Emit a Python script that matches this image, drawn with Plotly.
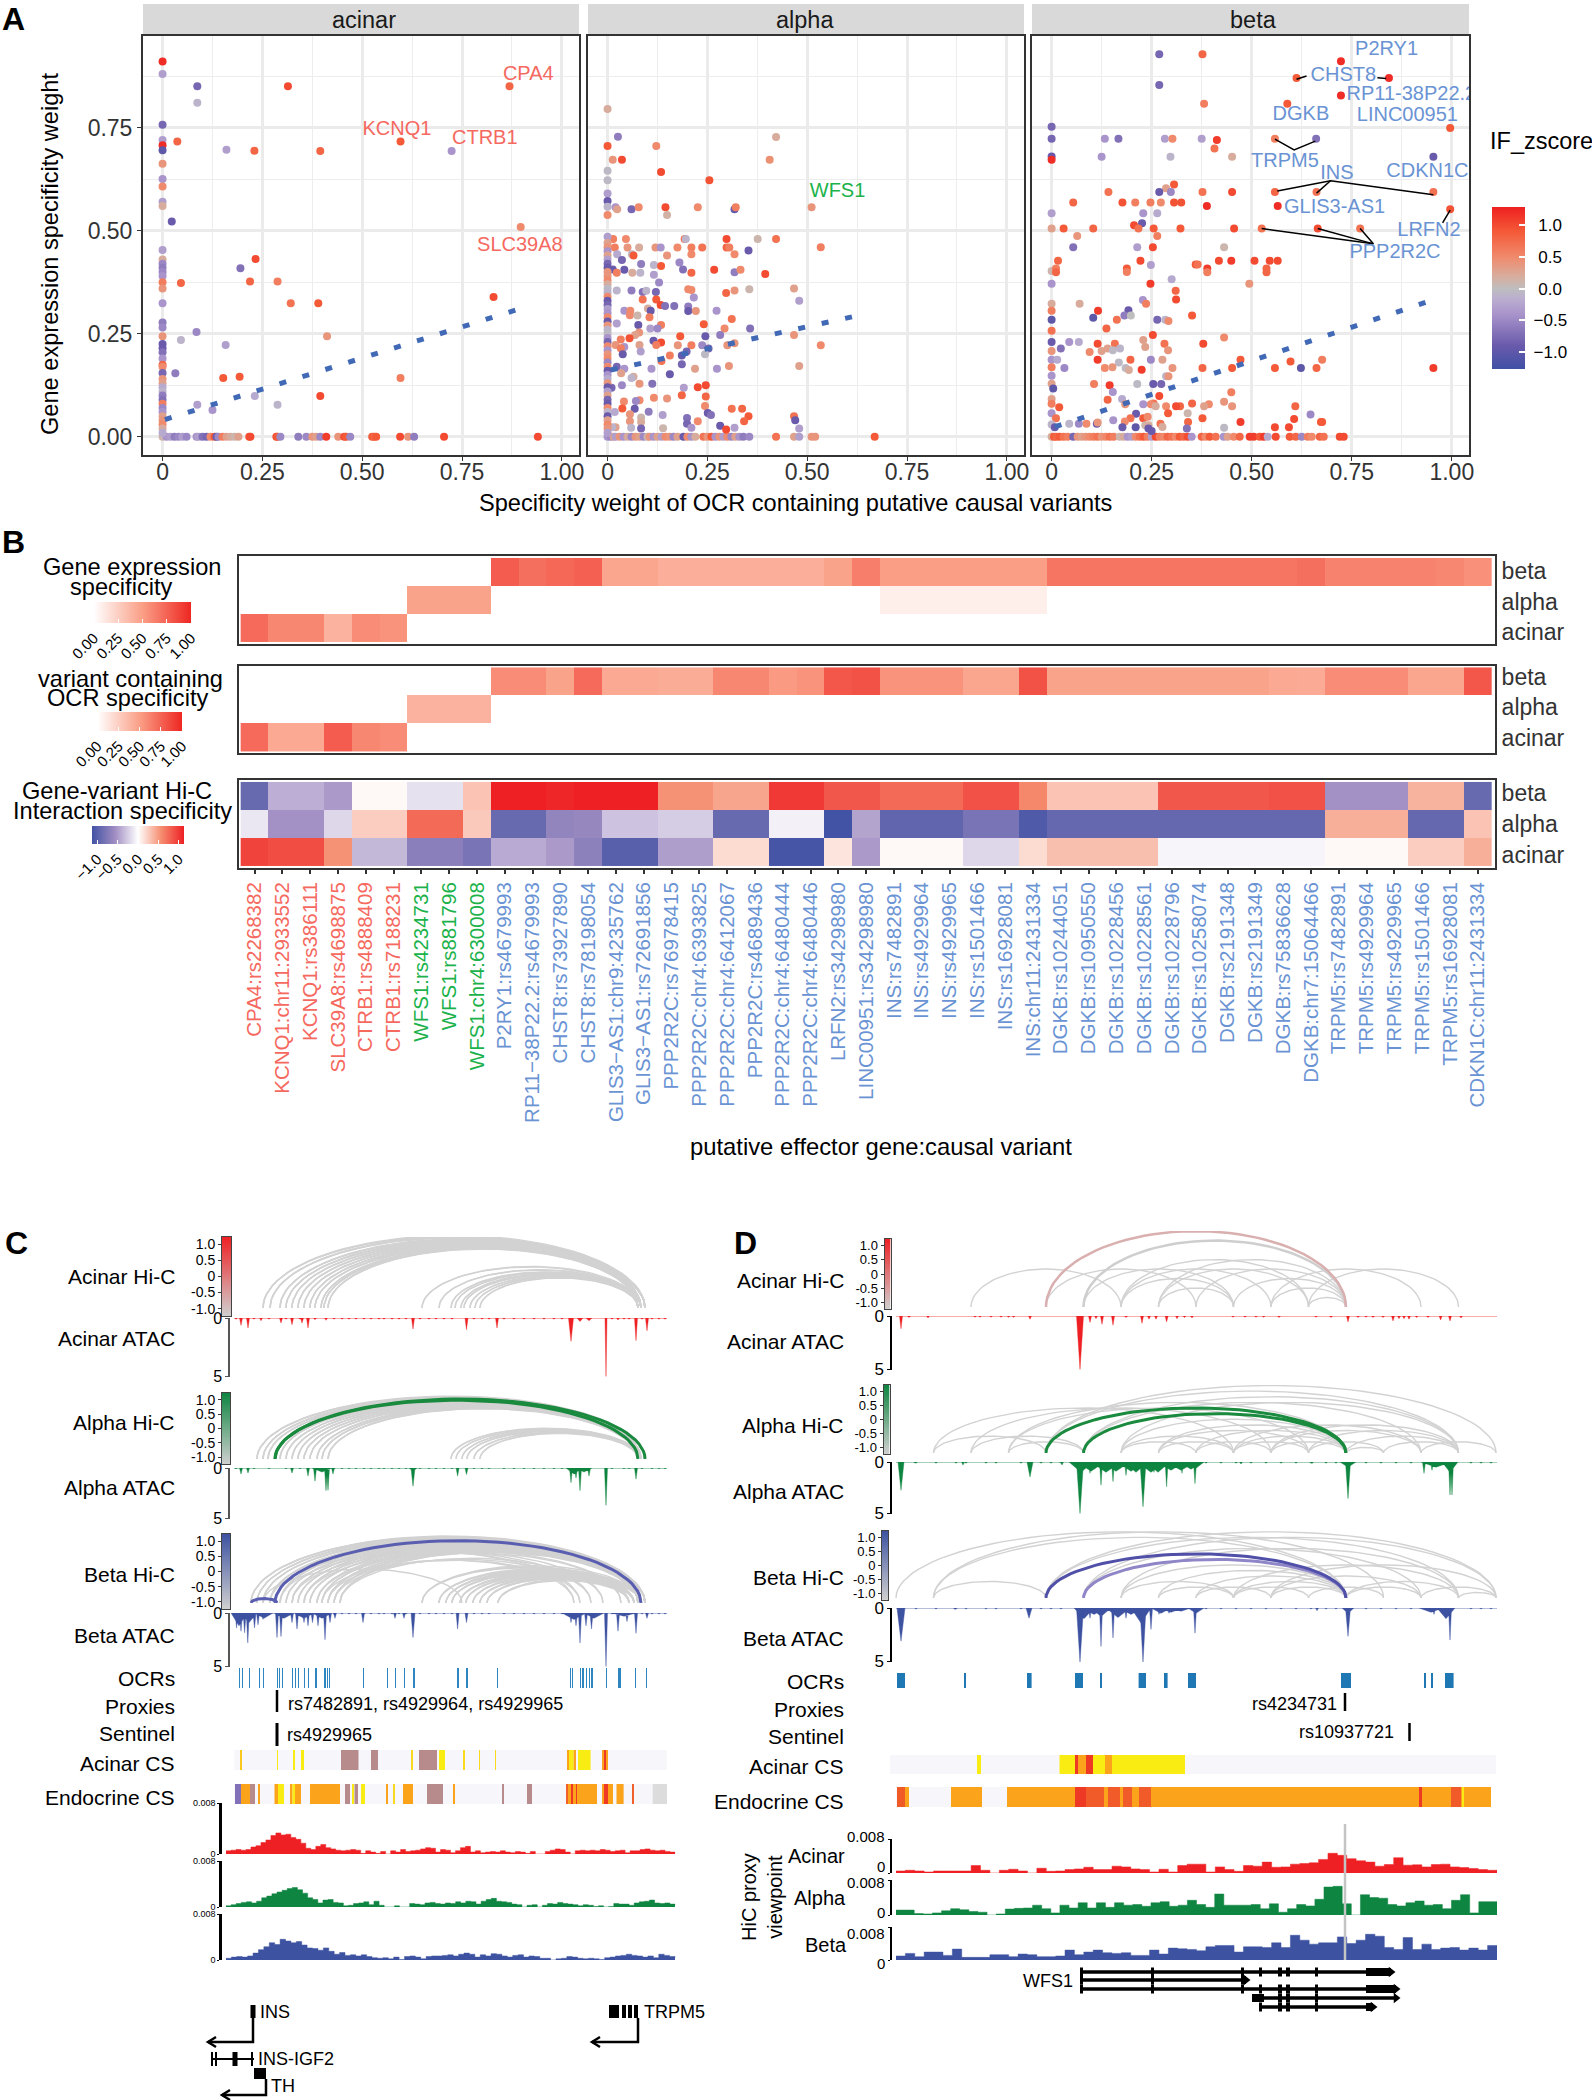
import numpy as np
import plotly.graph_objects as go

W, H = 1592, 2100
FONT = "Liberation Sans"
RED_T, GREEN_T, BLUE_T = "#F5695F", "#1BB24B", "#6A93D4"
ATAC_RED, ATAC_GREEN, ATAC_BLUE = "#EE2024", "#0E8540", "#3D52A1"

# ---------- Panel A ----------
acinar_pts = [(0,.91,1.2),(0,.88,-.3),(.087,.85,-.8),(.314,.85,1),(.869,.85,.8),(.087,.81,-.1),(0,.757,-.8),(0,.72,-.3),(0,.707,1.2),(0,.695,-1),(.037,.716,.8),(.16,.696,-.3),(.23,.694,.8),(.395,.693,.8),(.596,.716,.9),(.724,.693,-.4),(0,.662,.4),(0,.625,-.4),(0,.607,.5),(0,.57,-.3),(0,.56,.2),(.023,.522,-.9),(.897,.509,.5),(0,.453,-.3),(0,.43,.2),(.233,.431,1),(.195,.409,-.7),(.219,.377,.8),(.288,.377,.6),(.046,.373,.8),(.829,.339,1),(.321,.324,.7),(.39,.324,.9),(0,.42,-.5),(0,.41,-.6),(0,.40,-.5),(0,.39,-.4),(0,.375,.6),(0,.36,.4),(0,.324,-.4),(0,.277,-.6),(0,.265,-.5),(0,.244,.4),(.085,.254,-.5),(.046,.235,-.1),(.412,.244,.4),(.158,.223,-.3),(0,.225,-.9),(0,.215,-.9),(0,.205,-.7),(0,.19,-.4),(0,.175,.8),(0,.17,.5),(0,.155,-.8),(0,.14,.4),(0,.13,.3),(0,.12,-.2),(0,.11,-.1),(0,.10,-.6),(0,.09,-.7),(0,.08,.6),(0,.07,-.5),(0,.06,-.4),(0,.05,.3),(0,.04,.4),(0,.03,.5),(0,.02,.2),(0,.01,-.2),(.032,.154,-.6),(.152,.143,.9),(.193,.146,.9),(.596,.143,.6),(.395,.099,1),(.231,.099,-.2),(.288,.078,-.1),(.087,.078,-.3),(.125,.065,-.4)]
acinar_row_x = [0,.01,.02,.03,.04,.05,.06,.085,.09,.1,.11,.12,.13,.135,.14,.15,.16,.17,.18,.19,.217,.22,.285,.288,.295,.34,.36,.375,.385,.395,.41,.44,.455,.46,.47,.525,.53,.535,.595,.615,.63,.705,.94]
acinar_row_z = [.1,-.4,-.3,-.6,-.5,-.3,-.5,-.4,-.3,-.7,-.8,.5,.9,-.9,-.5,.6,.3,.2,.1,.3,.9,1,1,.9,-.5,-.6,-.5,.4,.3,-.5,1.1,.4,1,.9,-.5,.9,.8,.9,1,.4,-.6,1,1]
alpha_pts = [(0,.795,.2),(.026,.728,-.6),(.422,.727,.2),(0,.705,.9),(.122,.705,.5),(.013,.672,.4),(.036,.672,1),(.406,.672,.45),(.134,.642,1),(.255,.622,.95),(0,.645,-.05),(0,.622,-.05),(0,.59,-.3),(0,.572,-.9),(0,.558,-.1),(0,.538,.5),(.02,.557,-.4),(.024,.552,.3),(.06,.552,-.8),(.078,.557,.5),(.145,.557,1),(.149,.538,.15),(.226,.557,.5),(.318,.552,-.95),(.321,.557,.6),(.511,.557,.4),(.014,.48,.6),(.046,.48,.5),(.193,.48,.7),(.196,.48,-.1),(.298,.48,1),(.376,.48,.1),(.422,.48,.7),(.018,.459,.6),(.05,.459,.4),(.079,.459,.2),(.12,.459,.4),(.133,.459,-.4),(.175,.459,.5),(.21,.459,.6),(.237,.459,.7),(.298,.459,.8),(.305,.459,.6),(.534,.46,.6),(.353,.452,-.9),(.21,.443,.5),(.318,.443,.5),(.149,.44,.4),(.024,.443,-.2),(.061,.443,-.05),(.065,.44,.9),(.036,.429,-.8),(.084,.419,-.6),(.116,.417,-.1),(.134,.414,.9),(.18,.423,-.5),(.013,.406,-.9),(.042,.405,-.9),(.023,.398,.6),(.062,.398,.2),(.082,.398,-.1),(.116,.393,-.3),(.189,.406,-.7),(.21,.398,.8),(.267,.405,1),(.318,.399,-.6),(.333,.405,.5),(.395,.395,1),(.129,.374,-.5),(.06,.355,-.6),(.023,.355,-.1),(.088,.351,-.7),(.097,.354,-.1),(.121,.351,-.8),(.202,.358,.5),(.21,.356,.5),(.297,.349,.8),(.318,.355,.4),(.355,.358,.1),(.467,.36,.3),(.216,.338,-.4),(.088,.333,.7),(.122,.333,.9),(.48,.33,-.3),(.133,.32,1),(.144,.317,-.7),(.167,.317,-.7),(.202,.316,-.6),(.202,.305,-.9),(.221,.305,.4),(.273,.306,-.4),(.101,.311,.2),(.108,.306,-.9),(.042,.306,-.4),(.057,.306,.5),(.056,.295,.5),(.075,.294,.1),(.105,.29,.6),(.311,.286,.7),(.241,.273,.9),(.077,.271,-.9),(.023,.275,-.3),(.134,.271,.6),(.107,.263,-.3),(.125,.263,-.5),(.293,.263,.5),(.357,.263,-.7),(.079,.253,.4),(.069,.247,.3),(.182,.244,.9),(.245,.244,-.9),(.282,.247,-.6),(.467,.247,.4),(.055,.239,.95),(.033,.236,.6),(.115,.233,-.9),(.134,.229,1),(.122,.223,.6),(.02,.223,.4),(.042,.218,-.4),(.08,.223,.3),(.176,.222,.4),(.21,.222,.6),(.237,.222,-.5),(.253,.214,-.8),(.3,.222,.4),(.318,.227,.4),(.534,.222,.5),(.033,.215,.6),(.198,.207,-.8),(.186,.197,-.9),(.083,.207,-.3),(.038,.2,-.9),(.156,.197,.6),(.244,.2,-.05),(.135,.184,.7),(.186,.176,-.8),(.304,.172,.4),(.023,.17,-.8),(.11,.165,-.4),(.219,.165,.3),(.274,.165,-.4),(.042,.165,-.4),(.48,.172,.3),(.034,.154,.3),(.156,.152,-.9),(.065,.146,.2),(.06,.143,-.1),(.08,.129,.4),(.036,.125,-.5),(.112,.129,-.7),(.191,.119,-.3),(.226,.12,1),(.246,.125,1),(.01,.119,-.8),(.186,.101,.8),(.246,.098,.8),(.149,.093,.4),(.116,.095,.5),(.08,.089,.5),(.041,.086,.5),(.071,.087,-.5),(.244,.075,.5),(.037,.069,.9),(.068,.068,-.9),(.103,.061,-.6),(.311,.068,.7),(.337,.068,.8),(.251,.058,-.9),(.259,.053,-.7),(.056,.055,.4),(.018,.06,-.2),(.138,.053,-.3),(.084,.047,.1),(.199,.046,-.7),(.353,.05,.9),(.467,.05,.7),(.342,.038,.8),(.226,.038,.5),(.199,.032,-.8),(.056,.038,.4),(.084,.036,.2),(.47,.04,-.9),(.282,.027,-.9),(.139,.021,.1),(.21,.022,-.4),(.318,.022,-.3),(.059,.022,-.1),(.02,.023,.3),(.012,.023,-.1),(.084,.02,-.8),(.297,.018,1),(.48,.02,-.3)]
alpha_col_y = [.485,.47,.46,.45,.44,.43,.42,.41,.40,.39,.38,.37,.36,.35,.34,.33,.32,.31,.30,.29,.28,.27,.26,.25,.24,.23,.22,.21,.2,.19,.18,.17,.16,.15,.14,.13,.12,.11,.1,.09,.08,.07,.06,.05,.04,.03,.02,.01]
alpha_col_z = [-.3,.3,.4,-.4,.3,-.3,-.8,-.9,.4,.4,.5,.2,-.05,-.1,.5,-.9,-.8,-.3,-.4,.5,-.9,.4,-.1,-.05,-.4,-.8,.5,-.4,.4,.5,-.5,.5,-.9,-.4,-.2,.4,-.9,-.3,.3,-.8,-.9,.5,-.1,-.9,.3,.5,.4,-.3]
alpha_row_x = [0,.008,.015,.02,.03,.04,.05,.06,.07,.08,.09,.1,.105,.115,.125,.135,.145,.155,.165,.175,.19,.2,.21,.22,.24,.25,.26,.27,.28,.29,.3,.31,.32,.33,.34,.355,.422,.467,.48,.511,.52,.669]
alpha_row_z = [-.4,-.5,.3,-.3,.4,-.4,.2,-.5,.4,.3,-.5,.1,.4,-.4,.3,-.3,.5,.4,-.5,.3,-.9,.5,-.4,.2,.7,.4,.9,-.4,.4,-.3,.5,-.5,.3,-.4,-.6,-.5,.7,.3,-.3,.4,.4,.9]
beta_pts = [(.269,.928,-.8),(.377,.928,.8),(.723,.911,1.2),(.612,.87,.9),(.843,.87,1.2),(.269,.853,-.8),(.723,.828,1.2),(.589,.808,.9),(.381,.808,.6),(0,.752,-.8),(.996,.749,.9),(0,.723,-.8),(.133,.723,-.4),(.167,.723,-.7),(.283,.723,-.3),(.302,.723,.5),(.375,.723,-.3),(.413,.72,1.1),(.558,.723,.6),(.661,.723,-.7),(.407,.699,.7),(0,.68,-.9),(0,.672,1.2),(.125,.679,-.4),(.297,.679,-.1),(.451,.679,.2),(.954,.679,-.9),(.306,.612,.9),(.286,.603,.3),(.142,.594,.7),(.269,.594,-.9),(.298,.594,-.5),(.377,.594,.7),(.451,.594,1),(.558,.594,.8),(.662,.594,.7),(.954,.594,.7),(.054,.568,.8),(.177,.568,.95),(.209,.568,.6),(.247,.568,.6),(.273,.568,.5),(.306,.568,.95),(.324,.568,.95),(.388,.56,1.2),(.565,.56,1.2),(.996,.552,.95),(0,.542,-.3),(.229,.542,-.4),(.264,.542,-.2),(.226,.518,-.9),(.206,.513,1),(0,.505,.3),(.03,.505,.9),(.104,.505,.8),(.217,.505,.7),(.255,.505,.9),(.322,.505,.9),(.456,.505,1),(.525,.505,.7),(.665,.505,1),(.771,.505,.7),(.064,.487,.4),(.264,.487,.6),(.054,.46,-.7),(.214,.46,-.3),(.253,.46,1),(.431,.46,.1),(.016,.427,.8),(.222,.427,1),(.36,.418,.9),(.365,.418,.7),(.248,.417,-.3),(.418,.427,1),(.449,.427,1.1),(.507,.427,1),(.545,.427,1),(.565,.427,1),(0,.402,.1),(.011,.408,.6),(.011,.399,.8),(.188,.408,.9),(.188,.4,.6),(.389,.408,1.1),(.389,.399,.6),(.537,.408,.8),(.537,.399,.8),(.3,.382,-.2),(.247,.371,1.1),(0,.371,-.4),(.494,.371,.4),(.31,.354,.8),(.311,.333,1),(0,.323,.2),(.07,.323,.2),(.228,.332,-.4),(.236,.323,.6),(0,.306,.6),(.116,.306,1.1),(.192,.307,-.9),(.182,.294,-.6),(.198,.294,0),(.351,.294,.9),(.104,.289,-1),(0,.284,-1),(.163,.284,.7),(.264,.284,-.8),(.284,.284,-.1),(.292,.281,.5),(.137,.263,.8),(0,.257,.7),(.253,.247,1),(.431,.241,.5),(0,.23,-.9),(.044,.23,-.4),(.068,.23,-.2),(.115,.226,1),(.158,.226,.7),(.229,.235,.3),(.234,.218,.3),(.282,.226,.7),(.379,.226,1),(.023,.214,-.7),(.14,.214,.3),(.153,.21,-.05),(.171,.214,-.1),(.125,.208,.3),(.291,.21,.4),(0,.208,.4),(.095,.206,.5),(.115,.187,1.1),(.197,.187,.8),(.248,.187,-.5),(.277,.187,.3),(0,.187,-.4),(.014,.187,-.2),(.472,.187,.9),(.168,.18,-.05),(.597,.183,.9),(.676,.187,.6),(0,.169,.6),(.032,.167,-.5),(.133,.167,.5),(.152,.169,.4),(.185,.167,-.05),(.193,.162,.2),(.225,.163,1.1),(.302,.167,.4),(.377,.167,.8),(.451,.167,.9),(.558,.167,.9),(.623,.167,-1),(.662,.167,.8),(.954,.167,1.1),(.286,.147,-.1),(.292,.147,.4),(0,.148,-.4),(0,.129,.3),(.004,.117,-1),(.106,.128,.6),(.145,.125,1.1),(.153,.109,-.4),(.214,.128,-.05),(.254,.128,-.9),(.274,.128,-.8),(.449,.108,.6),(.269,.099,1),(.176,.092,-.2),(.14,.09,.8),(0,.092,.3),(0,.08,.6),(.431,.085,.4),(.351,.081,.8),(.184,.079,.4),(.255,.081,.7),(.248,.079,.5),(.229,.079,-.4),(.393,.079,.5),(.381,.074,.3),(.321,.074,.8),(.311,.074,1),(.26,.074,.2),(.286,.074,.5),(.451,.074,.4),(.609,.074,.8),(.019,.072,.9),(.34,.057,.1),(.291,.057,.9),(.211,.056,-.9),(.647,.054,-.5),(0,.057,-.4),(.197,.045,.7),(.229,.045,.9),(.24,.049,.5),(.011,.045,.7),(.377,.045,.9),(.606,.043,1),(.154,.04,-.4),(.472,.036,1.1),(.673,.036,.9),(.676,.036,.9),(.341,.036,.8),(.087,.032,.5),(.044,.032,-.1),(.068,.032,-.5),(.113,.032,-.9),(.115,.035,.4),(.183,.037,.5),(.272,.032,.7),(.234,.028,.1),(.242,.028,.2),(0,.03,-.1),(.177,.023,-.9),(.21,.023,-1),(.338,.02,-.7),(.277,.024,.2),(.431,.022,-.05),(.558,.023,1),(.593,.023,1),(.008,.023,-.9),(.242,.02,-.9),(.25,.014,-.9)]
beta_row_x = [0,.006,.012,.02,.03,.04,.054,.065,.075,.085,.095,.105,.115,.125,.135,.145,.155,.17,.18,.19,.2,.21,.22,.23,.24,.25,.26,.27,.28,.29,.3,.31,.32,.33,.34,.35,.375,.385,.395,.41,.43,.44,.455,.47,.495,.505,.52,.53,.54,.56,.595,.61,.625,.64,.65,.67,.68,.72,.73]
beta_row_z = [.2,.9,.8,.9,.7,.6,-.8,.4,.3,.4,.5,.6,.7,.4,.5,.7,.6,.1,.2,-.4,-.3,.5,.7,.9,.6,-.3,1,.6,.5,.8,.7,.5,.9,.8,1,-.4,.8,.5,.9,.7,-.4,.3,.5,.8,1.1,1.1,.9,1.1,-.2,1,.9,.8,-.5,.6,.5,.8,.7,1,1]
trend_x = {"acinar": [.006, .913], "alpha": [.008, .626], "beta": [.008, .968]}
trend_y = {"acinar": [.042, .316], "alpha": [.162, .294], "beta": [.024, .337]}
ab_ticks = [0, .25, .5, .75, 1]
ab_ticktext = ["0", "0.25", "0.50", "0.75", "1.00"]
y_ticks = [0, .25, .5, .75]
y_ticktext = ["0.00", "0.25", "0.50", "0.75"]
acinar_labels = [("CPA4", .916, .877), ("KCNQ1", .587, .745), ("CTRB1", .807, .723), ("SLC39A8", .895, .463)]
alpha_labels = [("WFS1", .576, .593)]
beta_labels = [("P2RY1", .837, .938), ("CHST8", .729, .874), ("RP11-38P22.2", .899, .829), ("DGKB", .623, .78), ("LINC00951", .889, .777), ("TRPM5", .583, .667), ("INS", .713, .638), ("CDKN1C", .939, .642), ("GLIS3-AS1", .707, .556), ("LRFN2", .943, .498), ("PPP2R2C", .858, .447)]
beta_seg_x = [.612,.637,None,.814,.836,None,.558,.606,.659,None,.564,.697,.954,None,.662,.697,None,.996,.977,None,.525,.804,None,.665,.804,None,.771,.804]
beta_seg_y = [.867,.875,None,.871,.869,None,.722,.696,.717,None,.596,.621,.587,None,.591,.621,None,.55,.519,None,.505,.468,None,.505,.468,None,.505,.468]

# ---------- Panel B ----------
col_red = ["CPA4:rs2268382","KCNQ1:chr11:2933552","KCNQ1:rs386111","SLC39A8:rs4698875","CTRB1:rs4888409","CTRB1:rs7188231"]
col_green = ["WFS1:rs4234731","WFS1:rs881796","WFS1:chr4:6300008"]
col_blue = ["P2RY1:rs4679993","RP11\u221238P22.2:rs4679993","CHST8:rs73927890","CHST8:rs78198054","GLIS3\u2212AS1:chr9:4235762","GLIS3\u2212AS1:rs72691856","PPP2R2C:rs76978415","PPP2R2C:chr4:6393825","PPP2R2C:chr4:6412067","PPP2R2C:rs4689436","PPP2R2C:chr4:6480444","PPP2R2C:chr4:6480446","LRFN2:rs34298980","LINC00951:rs34298980","INS:rs7482891","INS:rs4929964","INS:rs4929965","INS:rs1501466","INS:rs16928081","INS:chr11:2431334","DGKB:rs10244051","DGKB:rs10950550","DGKB:rs10228456","DGKB:rs10228561","DGKB:rs10228796","DGKB:rs10258074","DGKB:rs2191348","DGKB:rs2191349","DGKB:rs75836628","DGKB:chr7:15064466","TRPM5:rs7482891","TRPM5:rs4929964","TRPM5:rs4929965","TRPM5:rs1501466","TRPM5:rs16928081","CDKN1C:chr11:2431334"]
row_names = ["acinar", "alpha", "beta"]
gex_beta = [0]*9 + [.78,.7,.73,.76,.47,.47,.42,.42,.42,.42,.42,.42,.48,.64,.5,.5,.5,.5,.5,.5,.68,.68,.68,.68,.68,.68,.68,.68,.68,.7,.62,.62,.62,.62,.6,.56]
gex_alpha = [0]*6 + [.48,.48,.48] + [0]*14 + [.08]*6 + [0]*16
gex_acinar = [.72,.6,.6,.4,.58,.55] + [0]*39
ocr_beta = [0]*9 + [.58,.58,.48,.72,.45,.45,.43,.43,.6,.6,.52,.55,.8,.82,.55,.55,.55,.47,.47,.82,.48,.48,.48,.48,.48,.48,.48,.48,.45,.44,.58,.58,.58,.47,.47,.8]
ocr_alpha = [0]*6 + [.4,.4,.4] + [0]*36
ocr_acinar = [.72,.45,.45,.78,.6,.58] + [0]*39
hic_beta = [-.9,-.4,-.4,-.5,.03,.03,-.15,-.15,.3,1.2,1.2,1.1,1.15,1.15,1.15,.55,.55,.45,.45,1,1,.85,.85,.75,.75,.75,.88,.88,.6,.3,.3,.3,.3,.85,.85,.85,.85,.88,.88,-.55,-.55,-.55,.38,.38,-.9]
hic_alpha = [-.12,-.55,-.55,-.2,.25,.25,.75,.75,.27,-.9,-.9,-.65,-.62,-.3,-.3,-.25,-.25,-.9,-.9,-.07,-.07,-1.2,-.45,-.95,-.95,-.95,-.8,-.8,-1.05,-.92,-.92,-.92,-.92,-.92,-.92,-.92,-.92,-.92,-.92,.4,.4,.4,-.92,-.92,.3]
hic_acinar = [.95,.9,.9,.55,-.35,-.35,-.7,-.7,-.8,-.42,-.42,-.5,-.68,-1,-1,-.48,-.48,.18,.18,-1.1,-1.1,.13,-.5,.03,.03,.03,-.2,-.2,.18,.32,.32,.32,.32,-.05,-.05,-.05,-.05,-.05,-.05,.03,.03,.03,.25,.25,.4]

# ---------- Panels C, D: tracks ----------
levels = list(np.linspace(-1.23, 1.23, 41))
cb_ticks = [-1, -.5, 0, .5, 1]
cb_text = ["-1.0", "-0.5", "0", "0.5", "1.0"]

c_ac_left = [29,36,46,52,58,64,70,76,81,87,90,94]
c_ac_left2 = [188,205,217,221,227,230,236,241,246]
c_al_left = [23,29,34,46,52,58,64,70,76,83,88,94]
c_al_left2 = [217,222,228,233,240,246]
c_be_left = [17,23,29,36,46,52,58,64,70,76,83,88,94,100,106]
c_be_left2 = [188,205,212,218,226,232,239,246,253,264]
c_be_extra = [(29,228),(36,340),(46,346),(58,357),(70,369),(83,387),(88,340),(94,346),(100,357),(106,369),(94,387)]
c_highlight = {"alpha": [(41,404),(41,411)], "beta": [(41,407),(17,43)]}

c_ocr = [5,8,15,25,29,43,45,48,58,61,64,70,74,81.6,90.5,93,95,129,153,161,170,179,180,223.6,232.5,263,336,338,346,348.6,352,355,357.5,372,384,385.6,401,412]
c_noise = [2,20,35,52,66,100,108,115,122,130,137,145,150,158,165,172,186,195,202,210,218,240,248,255,270,280,290,300,310,320,328,378,390,395,408,418,425,431]
c_atac_acinar = [(7,.63),(14,.86),(27,.23),(47,.43),(58,.57),(68,.43),(74,.86),(81,.14),(92,.2),(179,.94),(232.5,1),(263,.86),(337,2,2.5),(346,.3,3),(355,.23,3),(372,5,1),(384,.17),(402,1.94),(413,1.1)]
c_atac_alpha = [(7,.6),(14,.5),(58,.5),(74,.8),(81,1.3),(92,2.25),(94,2.2),(99,.6),(179,1.8,2),(223.6,.8),(232.5,.65),(337,1.45),(342,1),(346,2.25),(355,.8),(372,3.7),(402,1.1),(88,.4,10),(340,.6,8),(350,.4,8),(179,.3,4)]
c_atac_beta = [(2.6,1.4),(7,1.7),(10.6,1.85),(13.8,2.8),(20.5,1.4),(24,1.1),(29,.6),(43,2.3),(47,2.2),(58,.9),(63,1.5),(70,.9),(74,1.2),(78.5,.9),(84,1.2),(91,2.5),(96,.9),(101,.5),(129,.9),(161,.5),(170,.5),(179,2.3,2),(223.6,1.5),(232.5,.9),(337,.9),(342,1.2),(346,2.8),(352,1.2),(357.5,1.5),(372,5),(384,1.7),(393,.8),(402,1.9),(413,.5),(5,1.2,8),(15,.9,8),(30,.5,9),(50,.5,10),(70,.5,10),(88,.5,10),(340,.6,12),(360,.5,10),(390,.3,12)]

c_acinar_cs = [(.4,433,"#F6F6FB"),(6.5,8,"#F9C820"),(43,44,"#F8EC13"),(59,61,"#F8EC13"),(67,70,"#F8EC13"),(107,124.5,"#B78B8B"),(137,144,"#B78B8B"),(177,179,"#F9D820"),(185,203,"#B78B8B"),(205,211,"#F8EC13"),(229,231,"#F9D820"),(245,246,"#F9D820"),(261,262,"#F9D820"),(333,335,"#FBA31B"),(335,339.7,"#F8EC13"),(339.7,342,"#FBA31B"),(344,356.6,"#F8EC13"),(368,370.5,"#FBA31B"),(370.5,372,"#EE3A24"),(372,374,"#FBA31B")]
c_endo_cs = [(.4,433,"#F6F6FB"),(1,7,"#8270B8"),(7,16,"#FBA31B"),(16,21,"#B78B8B"),(24,26,"#FBA31B"),(40.5,44,"#FBA31B"),(44,50,"#F8EC13"),(56,58.5,"#FBA31B"),(58.5,61,"#F8EC13"),(61,67,"#FBA31B"),(76,106,"#FBA31B"),(111,116,"#B78B8B"),(118,120,"#F8EC13"),(120.5,124,"#B78B8B"),(127,131,"#F8EC13"),(152,154,"#FBA31B"),(159,161,"#F8D820"),(169,179,"#FBA31B"),(193,209,"#B78B8B"),(219,221,"#FBA31B"),(268,270,"#B78B8B"),(293,298,"#B78B8B"),(332,334,"#F0602A"),(334,363,"#FBA31B"),(337.4,338.5,"#EE3A24"),(342,343,"#EE3A24"),(368,370,"#FBA31B"),(370,374,"#EE3A24"),(374,379,"#FBA31B"),(382.5,389.6,"#FBA31B"),(398.6,400,"#F0602A"),(418.7,433.4,"#DCDCDC")]

c_vp_red = [.5,.6,.7,.6,.7,1.1,1.3,1.8,2.2,2.9,3.3,3.0,3.1,2.6,2.3,1.7,.9,.7,1.2,1.5,1.0,.8,.6,.5,.6,.7,.6,.1,.5,.3,.1,.4,.0,.5,.3,.7,.4,.5,.6,.8,1.0,.9,.3,.7,.6,.2,.5,1.0,1.2,.3,.5,.2,.3,.4,.3,.5,.3,.2,.4,.3,.1,.4,0,0,.4,.6,.8,.7,.3,0,.5,.6,.5,.6,.5,.7,.6,.4,.5,.6,.2,.5,.5,.7,.8,.6,.5,.6,.4,.3,.2]
c_vp_green = [.2,.4,.6,.8,.9,.7,1.0,1.6,1.9,2.3,2.6,2.9,3.2,3.4,3.0,2.4,1.6,1.3,.7,1.2,1.3,.8,.7,.2,.3,.6,.7,.9,.4,1.0,.3,0,0,.2,0,0,.6,.5,.4,.7,.8,.6,.5,.7,.6,.9,.7,1.0,.9,.5,1.0,1.3,1.5,1.0,.9,.8,.5,.4,0,.3,.4,0,.3,.6,.5,.8,.6,.5,.4,.2,.4,.3,.1,.2,0,.1,.6,.5,.5,.3,.7,.9,1.0,1.2,.7,.6,.7,.5,.4]
c_vp_blue = [.3,.5,.6,.5,.7,1.2,1.8,2.3,3.0,2.7,3.6,3.3,3.0,3.2,2.6,2.1,2.0,1.7,2.1,1.5,1.0,1.3,.8,.9,.7,.9,.6,.4,.3,.4,.2,.5,.1,.6,.7,.5,.2,.6,.7,.7,.8,.9,.7,1.0,1.2,1.0,.5,.9,.7,1.1,1.0,.7,.5,.8,.9,.5,.7,.6,.3,.3,0,.2,.3,.6,.5,.3,.2,.3,.2,.1,.4,.5,.7,.8,1.0,.8,.7,.5,.7,.4,1.0,.8,.6,.4]

d_arcs_acinar = [(2,6),(4,8),(5,9),(6,10),(7,11),(8,12),(6,11),(7,12),(6,9),(7,9),(10,14),(11,15),(9,12),(10,12),(11,12)]
d_arcs_alpha = [(1,4),(1,9),(2,5),(2,10),(3,5),(3,11),(3,12),(4,16),(4,15),(5,15),(5,14),(6,15),(6,12),(6,9),(7,12),(7,9),(8,12),(8,10),(9,12),(9,11),(10,12),(6,8),(10,14),(10,15),(11,13),(11,15),(12,13),(13,15),(14,16),(12,15),(7,11),(9,14)]
d_arcs_beta = [(0,12),(1,4),(1,12),(1,13),(4,16),(4,15),(5,14),(5,16),(6,9),(6,12),(6,15),(7,9),(7,12),(8,10),(8,12),(9,11),(9,12),(9,15),(10,12),(10,14),(10,16),(11,13),(12,15),(12,14),(14,16),(15,16)]
d_bin_kb = 37.5
d_ocr = [(1,9),(68,70),(131,135.6),(179,187),(204,206),(242.6,250),(268,271.6),(292,300),(445,455),(528,530),(535,537),(549,557.6)]
d_noise = [20,40,60,70,90,100,125,145,155,165,310,325,340,355,370,385,400,415,430,440,470,485,500,515,530,575,585,595]
d_atac_acinar = [(5,1.2),(13,.15),(32,.18),(79,.12),(84,.12),(95,.12),(105,.12),(112.5,.12),(117.6,.12),(134,.3),(184,5,3.5),(194,.6),(200,.25),(206,.77),(217,.86),(230,.15),(246,.68),(253,.3),(260,.3),(270.6,.55),(281,.25),(288.5,.15),(296,.18),(337,.12),(349,.12),(360,.12),(367.6,.12),(383,.15),(420,.12),(435,.15),(452,.55),(462,.15),(470,.12),(477,.15),(487,.15),(497,.46),(503,.25),(508,.25),(513,.3),(520.6,.15),(532,.15),(544.6,.37),(554,.46),(565,.18)]
d_atac_alpha = [(5,2.75,3),(19,.1),(67,.3),(134,1.45,3),(166,.3),(184,5,3.5),(194,1.1),(205,2.25),(217,1.9),(230,1.3),(247,4.35,3),(258,1),(270.6,2.4),(286,1.1),(299,2.1),(345,.2),(416,.15),(452,3.55,2.5),(528,1.1),(536,.8),(554,3.2),(556,3.2),(185,1,12),(210,1,15),(240,1,12),(262,1,12),(285,.8,15),(300,.6,8),(452,.5,8),(540,.5,15),(554,1,8),(195,.9,14),(220,.9,14),(235,.9,14),(255,1,14),(275,.8,14),(295,.7,12)]
d_atac_beta = [(5,3.1,4),(59,.15),(133,.95,3),(184,5.1,3.5),(194,.95),(205,3.6),(217,2.8),(230,.95),(247,5.1,3),(255,2),(263,.6),(273,.5),(299,2.35),(421,.25),(452,2.65,2.5),(538,.6),(554,3),(188,1,10),(205,.8,10),(222,.9,12),(245,1.4,10),(265,.5,10),(285,.3,10),(300,.5,8),(452,.5,6),(535,.4,12),(550,1,9),(198,.6,12),(235,.6,12),(275,.4,12)]
d_acinar_cs = [(-6,600,"#F6F6FB"),(81,85,"#F8EC13"),(163.5,179,"#F8EC13"),(179,182,"#EE3A24"),(182,190,"#FBA31B"),(190,197,"#EE3A24"),(197,209,"#F8EC13"),(209,216,"#FBA31B"),(216,289,"#F8EC13")]
d_endo_cs = [(0,595,"#F6F6FB"),(1,9,"#EF5A26"),(9,13,"#FBA31B"),(55,86,"#FBA31B"),(111,595,"#FBA31B"),(179,190,"#EE3A24"),(190,208,"#F15A29"),(212,224,"#F15A29"),(227,236,"#F15A29"),(243,255,"#F15A29"),(523,526,"#EE3A24"),(555,565,"#F15A29"),(566.6,568,"#F8EC13")]
d_vp_red = [6,8,6,3,6,6,6,6,22,8,0,8,11,6,0,14,5,6,10,12,17,10,10,20,18,12,10,3,11,3,22,26,26,3,18,10,5,22,20,32,17,18,26,28,30,40,58,52,42,36,32,20,25,45,23,24,18,25,26,18,16,13,10,8,4]
d_vp_green = [14,14,4,3,6,12,18,15,10,8,0,3,17,19,20,28,18,6,28,20,35,20,35,22,35,28,30,25,35,38,25,28,42,30,22,60,28,28,28,30,18,32,8,18,30,26,45,80,82,32,0,58,50,48,30,26,35,40,28,30,18,42,58,6,38,38,0]
d_vp_blue = [12,20,10,24,24,14,33,8,8,8,16,16,10,18,16,10,10,12,30,16,24,30,22,20,22,14,14,30,18,36,34,32,28,40,44,44,24,40,40,38,52,38,75,60,48,52,52,70,50,60,78,72,38,32,68,32,48,32,36,38,30,36,30,44,38]
wfs_transcripts = [(186,495,[(184,187),(255,258),(345,348),(363,366),(382,386),(390,394),(419,422)],(470,495)),(186,350,[(184,187),(255,258),(345,348)],(345,350)),(186,500,[(184,187),(255,258),(345,348),(363,366),(382,386),(390,394),(419,422)],(470,500)),(356,500,[(382,386),(390,394),(419,422)],(356,368)),(363,477,[(363,366),(382,386),(390,394),(419,422)],(470,477))]
wfs_rows = [12,20,29,38,47]

fig = go.Figure()
layout = {}
axis_id = [1]
annos = []
shapes = []


def px_dom(x0, x1, y0, y1):
    return [x0 / W, x1 / W], [1 - y1 / H, 1 - y0 / H]


def axes(box, xr, yr, xopts=None, yopts=None):
    axis_id[0] += 1
    n = axis_id[0]
    dx, dy = px_dom(*box)
    xo = dict(domain=dx, range=xr, anchor=f"y{n}", visible=False, showgrid=False, zeroline=False, fixedrange=True)
    yo = dict(domain=dy, range=yr, anchor=f"x{n}", visible=False, showgrid=False, zeroline=False, fixedrange=True)
    xo.update(xopts or {})
    yo.update(yopts or {})
    layout[f"xaxis{n}"] = xo
    layout[f"yaxis{n}"] = yo
    return f"x{n}", f"y{n}"


def text(s, x, y, size=20, color="black", anchor="right", angle=0, bold=False, valign="middle"):
    annos.append(dict(text=f"<b>{s}</b>" if bold else s, x=x / W, y=1 - y / H, xref="paper", yref="paper",
                      xanchor=anchor, yanchor=valign, showarrow=False, textangle=angle,
                      font=dict(family=FONT, size=size, color=color)))


# ---- A ----
IF_SCALE = [[(v + 1.27) / 2.56, c] for v, c in [(-1.27, "#3F51A5"), (-.9, "#6A5AAB"), (-.4, "#A994CB"), (-.15, "#BBAFD0"), (0, "#BEBEBE"), (.2, "#D8AC9C"), (.5, "#F08A6C"), (.9, "#F45A38"), (1.29, "#EE2020")]]
layout["coloraxis"] = dict(cmin=-1.27, cmax=1.29, colorscale=IF_SCALE, colorbar=dict(
    x=1492 / W, xanchor="left", y=1 - 207 / H, yanchor="top", lenmode="pixels", len=162, thicknessmode="pixels",
    thickness=33, xpad=0, ypad=0, outlinewidth=0, tickvals=[-1, -.5, 0, .5, 1],
    ticktext=["\u00a0\u22121.0", "\u00a0\u22120.5", "\u00a0\u00a00.0", "\u00a0\u00a00.5", "\u00a0\u00a01.0"], ticks="inside", ticklen=6, tickcolor="white", tickwidth=1.5,
    tickfont=dict(family=FONT, size=17, color="black")))
text("IF_zscore", 1488, 141, size=23.5, anchor="left")
panels = [("acinar", 143, 579, 364, acinar_pts, acinar_row_x, acinar_row_z, acinar_labels, RED_T),
          ("alpha", 588, 1024, 805, alpha_pts, alpha_row_x, alpha_row_z, alpha_labels, GREEN_T),
          ("beta", 1032, 1469, 1253, beta_pts, beta_row_x, beta_row_z, beta_labels, BLUE_T)]
for idx, (name, x0, x1, cx, pts, rx, rz, labs, lc) in enumerate(panels):
    xo = dict(visible=True, tickvals=ab_ticks, ticktext=ab_ticktext, showgrid=True, gridcolor="#EBEBEB", gridwidth=2.5,
              minor=dict(tickvals=[.125, .375, .625, .875], showgrid=True, gridcolor="#EDEDED", gridwidth=1.2, ticks=""),
              ticks="outside", ticklen=4, tickcolor="#333", linecolor="#333", linewidth=2, mirror=True, ticklabelstandoff=-9,
              tickfont=dict(family=FONT, size=23, color="#333"))
    yo = dict(visible=True, tickvals=y_ticks, ticktext=y_ticktext if idx == 0 else [""] * 4, showgrid=True, gridcolor="#EBEBEB", gridwidth=2.5,
              minor=dict(tickvals=[.125, .375, .625, .875], showgrid=True, gridcolor="#EDEDED", gridwidth=1.2, ticks=""),
              ticks="outside" if idx == 0 else "", ticklen=4, tickcolor="#333", linecolor="#333", linewidth=2, mirror=True,
              tickfont=dict(family=FONT, size=23, color="#333"))
    ax, ay = axes((x0, x1, 36, 455), [-.049, 1.043], [-.044, .972], xo, yo)
    xs = [p[0] for p in pts]
    ys = [p[1] for p in pts]
    zs = [p[2] for p in pts]
    if name == "alpha":
        xs += [0] * len(alpha_col_y)
        ys += alpha_col_y
        zs += alpha_col_z
    xs = list(rx) + xs
    ys = [0] * len(rx) + ys
    zs = list(rz) + zs
    fig.add_trace(go.Scatter(x=xs, y=ys, mode="markers", xaxis=ax, yaxis=ay, showlegend=False,
                             marker=dict(size=8, color=zs, coloraxis="coloraxis", line=dict(width=0))))
    fig.add_trace(go.Scatter(x=trend_x[name], y=trend_y[name], mode="lines", xaxis=ax, yaxis=ay, showlegend=False,
                             line=dict(color="#4169B5", width=5, dash="7px,17px")))
    if name == "beta":
        fig.add_trace(go.Scatter(x=beta_seg_x, y=beta_seg_y, mode="lines", xaxis=ax, yaxis=ay, showlegend=False,
                                 line=dict(color="black", width=1.5)))
    fig.add_trace(go.Scatter(x=[l[1] for l in labs], y=[l[2] for l in labs], text=[l[0] for l in labs], mode="text",
                             xaxis=ax, yaxis=ay, showlegend=False, cliponaxis=True,
                             textfont=dict(family=FONT, size=20, color=lc)))
    shapes.append(dict(type="rect", xref="paper", yref="paper", x0=x0 / W, x1=x1 / W, y0=1 - 36 / H, y1=1 - 4 / H,
                       fillcolor="#D9D9D9", line=dict(width=0), layer="below"))
    text(name, cx, 20, size=23.5, anchor="center", color="#1A1A1A")
text("Gene expression specificity weight", 50, 254, size=23.6, anchor="center", angle=-90)
text("Specificity weight of OCR containing putative causal variants", 795, 503, size=23.6, anchor="center")
text("A", 0, 18.5, size=32, anchor="left", bold=True)

# ---- B ----
labels_b = col_red + col_green + col_blue
ticktext_b = [f'<span style="color:{RED_T if i < 6 else GREEN_T if i < 9 else BLUE_T}">{t}</span>' for i, t in enumerate(labels_b)]
colidx = list(range(len(labels_b)))
WR = [[0, "#FFFFFF"], [.09, "#FFFFFF"], [.55, "#FA9E85"], [1, "#EE2722"]]
for k, (px0, px1) in {"coloraxis2": (84, 191), "coloraxis3": (89, 182)}.items():
    yb = 602 if k == "coloraxis2" else 712
    th = 21 if k == "coloraxis2" else 19
    layout[k] = dict(cmin=-.1, cmax=1, colorscale=WR, colorbar=dict(
        orientation="h", x=px0 / W, xanchor="left", y=1 - yb / H, yanchor="top", lenmode="pixels", len=px1 - px0,
        thicknessmode="pixels", thickness=th, xpad=0, ypad=0, outlinewidth=0, tickvals=[0, .25, .5, .75, 1],
        ticktext=["0.00", "0.25", "0.50", "0.75", "1.00"], ticks="inside", ticklen=4, tickcolor="white", tickangle=-45,
        tickfont=dict(family=FONT, size=15, color="black")))
HIC_SCALE = [[0, "#4252A4"], [.25, "#A08DC2"], [.5, "#FFFFFF"], [.75, "#F58E70"], [1, "#EE2024"]]
layout["coloraxis4"] = dict(cmin=-1.13, cmax=1.13, colorscale=HIC_SCALE, colorbar=dict(
    orientation="h", x=92 / W, xanchor="left", y=1 - 826 / H, yanchor="top", lenmode="pixels", len=92,
    thicknessmode="pixels", thickness=18, xpad=0, ypad=0, outlinewidth=0, tickvals=[-1, -.5, 0, .5, 1],
    ticktext=["\u22121.0", "\u22120.5", "0.0", "0.5", "1.0"], ticks="inside", ticklen=4, tickcolor="white", tickangle=-45,
    tickfont=dict(family=FONT, size=15, color="black")))
rows_b = [((556, 644), [gex_acinar, gex_alpha, gex_beta], "coloraxis2", False, [-.14, .94, 2.05]),
          ((665.5, 753), [ocr_acinar, ocr_alpha, ocr_beta], "coloraxis3", False, [-.03, 1.08, 2.17]),
          ((780, 868), [hic_acinar, hic_alpha, hic_beta], "coloraxis4", True, [-.12, .99, 2.11])]
for (y0, y1), zz, ca, last, lab_y in rows_b:
    xo = dict(visible=True, showline=True, linecolor="#333", linewidth=2, mirror=True,
              tickvals=colidx if last else [], ticktext=ticktext_b if last else [], ticks="outside" if last else "",
              ticklen=4, tickwidth=2, tickcolor="#333", tickangle=-90, tickfont=dict(family=FONT, size=20.5))
    yo = dict(visible=True, side="right", tickvals=lab_y, ticktext=row_names, showline=True, linecolor="#333", linewidth=2,
              mirror=True, ticks="", tickfont=dict(family=FONT, size=23, color="#333"))
    ax, ay = axes((239, 1495, y0, y1), [-.56, 44.62], [-.57, 2.57], xo, yo)
    fig.add_trace(go.Heatmap(x=colidx, y=[0, 1, 2], z=zz, xaxis=ax, yaxis=ay, coloraxis=ca, xgap=0, ygap=0, hoverinfo="skip"))
text("B", 0, 542, size=32, anchor="left", bold=True)
text("Gene expression", 132, 567, size=23.6, anchor="center")
text("specificity", 121, 587, size=23.6, anchor="center")
text("variant containing", 130, 679, size=23.6, anchor="center")
text("OCR specificity", 127, 698, size=23.6, anchor="center")
text("Gene-variant Hi-C", 117, 791, size=23.6, anchor="center")
text("Interaction specificity", 122, 811, size=23.6, anchor="center")
text("putative effector gene:causal variant", 881, 1146, size=23.8, anchor="center")


# ---- helpers for tracks ----
def hic_bar(box, col, ticks_font=14):
    yo = dict(visible=True, tickvals=cb_ticks, ticktext=cb_text, ticks="outside", ticklen=3, tickcolor="#333",
              showline=True, linecolor="#444", linewidth=1, mirror=True, tickfont=dict(family=FONT, size=ticks_font, color="black"))
    xo = dict(visible=True, showline=True, linecolor="#444", linewidth=1, mirror=True, tickvals=[], ticks="")
    ax, ay = axes(box, [-.5, .5], [-1.23, 1.23], xo, yo)
    fig.add_trace(go.Heatmap(x=[0], y=levels, z=[[v] for v in levels], xaxis=ax, yaxis=ay, showscale=False, hoverinfo="skip",
                             colorscale=[[0, "#D0D0D0"], [1, col]]))


def arc_xy(pairs, ratio):
    xs, ys = [], []
    for a, b in pairs:
        th = np.linspace(0, np.pi, 50)
        xs += list((a + b) / 2 + (b - a) / 2 * np.cos(th)) + [None]
        ys += list(ratio * (b - a) * np.sin(th)) + [None]
    return xs, ys


def arcs(box, xr, pairs, hl, ratio, hl_w=3):
    base = box[3] - box[2]
    ax, ay = axes(box, xr, [0, base])
    xs, ys = arc_xy(pairs, ratio)
    fig.add_trace(go.Scatter(x=xs, y=ys, mode="lines", xaxis=ax, yaxis=ay, showlegend=False, line=dict(color="#D2D2D2", width=1.4)))
    for p, c in hl:
        xs, ys = arc_xy([p], ratio)
        fig.add_trace(go.Scatter(x=xs, y=ys, mode="lines", xaxis=ax, yaxis=ay, showlegend=False, line=dict(color=c, width=hl_w)))


def atac(box, xr, peaks, noise, nv, color, axcol="#555", fs=16, w=1.5):
    yo = dict(visible=True, tickvals=[0, 5], ticktext=["0", "5"], ticks="outside", ticklen=3, tickcolor=axcol, showline=True,
              linecolor=axcol, linewidth=1.5, tickfont=dict(family=FONT, size=fs, color="black"))
    ax, ay = axes(box, xr, [5.05, 0], None, yo)
    xs, ys = [], []
    for p in list(peaks) + [(n, nv, 1.5) for n in noise]:
        hw = p[2] if len(p) > 2 else w
        xs += [p[0] - hw, p[0], p[0] + hw, None]
        ys += [0, p[1], 0, None]
    fig.add_trace(go.Scatter(x=xs, y=ys, mode="lines", fill="toself", fillcolor=color, xaxis=ax, yaxis=ay, showlegend=False,
                             line=dict(color=color, width=.4), hoverinfo="skip"))
    fig.add_trace(go.Scatter(x=[xr[0] + 4, xr[1]], y=[0, 0], mode="lines", xaxis=ax, yaxis=ay, showlegend=False,
                             opacity=.5, line=dict(color=color, width=1.5)))


def segs(box, xr, items):
    ax, ay = axes(box, xr, [-.5, .5])
    fig.add_trace(go.Bar(y=[0] * len(items), x=[b - a for a, b, c in items], base=[a for a, b, c in items], orientation="h", width=1,
                         xaxis=ax, yaxis=ay, showlegend=False, marker=dict(color=[c for a, b, c in items], line=dict(width=0)), hoverinfo="skip"))


def vp(box, xr, x0, x1, vals, color, fs, axw=2.5, lab=("0", "0.008")):
    yo = dict(visible=True, tickvals=[0, .008], ticktext=list(lab), ticks="outside", ticklen=2, tickcolor="black", showline=True,
              linecolor="black", linewidth=axw, tickfont=dict(family=FONT, size=fs, color="black"))
    ax, ay = axes(box, xr, [0, .008], None, yo)
    fig.add_trace(go.Scatter(x=list(np.linspace(x0, x1, len(vals))), y=vals, mode="lines", fill="tozeroy", fillcolor=color,
                             xaxis=ax, yaxis=ay, showlegend=False, line=dict(color=color, width=.5, shape="hv"), hoverinfo="skip"))


def tick_mark(box, xr, pos, width=2.5):
    ax, ay = axes(box, xr, [0, 1])
    fig.add_trace(go.Scatter(x=[pos, pos], y=[0, 1], mode="lines", xaxis=ax, yaxis=ay, showlegend=False, line=dict(color="black", width=width)))


def glines(ax, ay, xs, ys, width=2.5, color="black"):
    fig.add_trace(go.Scatter(x=xs, y=ys, mode="lines", xaxis=ax, yaxis=ay, showlegend=False, line=dict(color=color, width=width)))


# ---- C ----
XC = [-4, 433]
hic_bar((222, 231, 1237, 1316), "#EE2024")
hic_bar((222, 230, 1393, 1464), "#0E8540")
hic_bar((222, 230, 1534, 1609), "#3D52A1")
pairs_ac = [(l, r) for l in c_ac_left for r in (404, 407, 411)] + [(l, r) for l in c_ac_left2 for r in (404, 407)]
pairs_al = [(l, r) for l in c_al_left for r in (404, 407, 411)] + [(l, 404) for l in c_al_left2] + [(l, 407) for l in c_al_left2]
pairs_be = [(l, r) for l in c_be_left for r in (404, 407, 411)] + [(l, r) for l in c_be_left2 for r in (395, 400, 407)] + c_be_extra
arcs((230, 667, 1237, 1308), XC, pairs_ac, [], .19)
arcs((230, 667, 1393, 1459), XC, pairs_al, [(p, "#1A8A3E") for p in c_highlight["alpha"]], .162)
arcs((230, 667, 1534, 1603), XC, pairs_be, [(p, "#5A5EB0") for p in c_highlight["beta"]], .17)
atac((230, 667, 1318, 1377), XC, c_atac_acinar, c_noise, .1, ATAC_RED)
atac((230, 667, 1468, 1519), XC, c_atac_alpha, c_noise, .08, ATAC_GREEN)
atac((230, 667, 1613, 1667), XC, c_atac_beta, c_noise, .1, ATAC_BLUE)
segs((230, 667, 1668, 1688), XC, [(p, p + 1, "#2E86C1") for p in c_ocr])
tick_mark((230, 667, 1690, 1712), XC, 43)
tick_mark((230, 667, 1723, 1746), XC, 43, 3)
text("rs7482891, rs4929964, rs4929965", 286, 1704, size=18, anchor="left")
text("rs4929965", 285, 1735, size=18, anchor="left")
segs((230, 667, 1750, 1770), XC, c_acinar_cs)
segs((230, 667, 1784, 1804), XC, c_endo_cs)
XV = [-12, 442]
vp((222, 676, 1803, 1854), XV, -8, 441, [v * 1e-3 for v in c_vp_red], ATAC_RED, 9)
vp((222, 676, 1861, 1907), XV, -8, 441, [v * 1e-3 for v in c_vp_green], ATAC_GREEN, 9)
vp((222, 676, 1914, 1960), XV, -8, 441, [v * 1e-3 for v in c_vp_blue], ATAC_BLUE, 9)
for s, y in [("Acinar Hi-C", 1276), ("Acinar ATAC", 1338), ("Alpha Hi-C", 1422), ("Alpha ATAC", 1487), ("Beta Hi-C", 1574), ("Beta ATAC", 1635), ("OCRs", 1678), ("Proxies", 1706), ("Sentinel", 1733), ("Acinar CS", 1763), ("Endocrine CS", 1797)]:
    text(s, 176.5, y, size=21)
text("C", 3, 1243, size=32, anchor="left", bold=True)
# genes C
gx, gy = axes((200, 680, 2000, 2100), [-34, 446], [100, 0])
glines(gx, gy, [19, 19, None], [5, 18, None], 5)
glines(gx, gy, [19, 19, -26, None, -18, -26, -18], [18, 42, 42, None, 37, 42, 47])
glines(gx, gy, [375, 385, None, 388, 392, None, 394, 398, None, 400, 404], [11.5] * 2 + [None] + [11.5] * 2 + [None] + [11.5] * 2 + [None] + [11.5] * 2, 13)
glines(gx, gy, [404, 404, 358, None, 366, 358, 366], [18, 42, 42, None, 37, 42, 47])
glines(gx, gy, [-22, 20], [59, 59], 2)
for xe, w in [(-22, 2), (-18, 2), (1, 5), (18, 2)]:
    glines(gx, gy, [xe, xe], [52, 66], w)
glines(gx, gy, [20, 32], [73.5, 73.5], 11)
glines(gx, gy, [32, 32, -12, None, -4, -12, -4], [79, 95, 95, None, 90, 95, 100])
text("INS", 258, 2012, size=18, anchor="left")
text("TRPM5", 642, 2012, size=18, anchor="left")
text("INS-IGF2", 256, 2059, size=18, anchor="left")
text("TH", 269, 2086, size=18, anchor="left")

# ---- D ----
XD = [-4, 601]
hic_bar((884.5, 890.6, 1239, 1309), "#EE2024", 13)
hic_bar((883.5, 889.6, 1385, 1454), "#0E8540", 13)
hic_bar((882, 888, 1531, 1600), "#3D52A1", 13)
tobins = lambda lst: [(a * d_bin_kb, b * d_bin_kb) for a, b in lst]
arcs((892, 1497, 1231, 1307), XD, tobins(d_arcs_acinar), [((5 * d_bin_kb, 12 * d_bin_kb), "#CECECE"), ((4 * d_bin_kb, 12 * d_bin_kb), "#D9AFAF")], .253, 2.5)
arcs((892, 1497, 1385, 1453), XD, tobins(d_arcs_alpha), [((4 * d_bin_kb, 12 * d_bin_kb), "#1A8A3E"), ((5 * d_bin_kb, 12 * d_bin_kb), "#1A8A3E")], .15)
arcs((892, 1497, 1530, 1598), XD, tobins(d_arcs_beta), [((5 * d_bin_kb, 12 * d_bin_kb), "#8F86C8"), ((4 * d_bin_kb, 12 * d_bin_kb), "#5050A8")], .147)
atac((892, 1497, 1316, 1370), XD, d_atac_acinar, [], .1, ATAC_RED, "black", 17)
atac((892, 1497, 1462, 1514), XD, d_atac_alpha, d_noise, .12, ATAC_GREEN, "black", 17)
atac((892, 1497, 1608, 1662), XD, d_atac_beta, d_noise, .1, ATAC_BLUE, "black", 17)
segs((892, 1497, 1673, 1688), XD, [(a, b, "#1F78B4") for a, b in d_ocr])
tick_mark((892, 1497, 1693, 1711), XD, 449)
tick_mark((892, 1497, 1723, 1741), XD, 513.5)
text("rs4234731", 1339, 1704, size=18)
text("rs10937721", 1396, 1732, size=18)
segs((886, 1497, 1755, 1774), [-10, 601], d_acinar_cs)
segs((892, 1497, 1787, 1807), XD, d_endo_cs)
vp((892, 1497, 1839, 1873), XD, 0, 601, [v * 8e-5 for v in d_vp_red], ATAC_RED, 15, 2, ("", ""))
vp((892, 1497, 1880, 1915), XD, 0, 601, [v * 8e-5 for v in d_vp_green], ATAC_GREEN, 15, 2, ("", ""))
vp((892, 1497, 1927, 1960), XD, 0, 601, [v * 8e-5 for v in d_vp_blue], ATAC_BLUE, 15, 2, ("", ""))
for s, y in [("0.008", 1836), ("0", 1866), ("0.008", 1883), ("0", 1912), ("0.008", 1933), ("0", 1963)]:
    text(s, 887, y, size=15)
lx, ly = axes((892, 1497, 1824, 1960), XD, [0, 1])
glines(lx, ly, [449, 449], [0, 1], 2.5, "#C4C4C4")
for s, y in [("Acinar Hi-C", 1280), ("Acinar ATAC", 1341), ("Alpha Hi-C", 1425), ("Alpha ATAC", 1491), ("Beta Hi-C", 1577), ("Beta ATAC", 1638), ("OCRs", 1681), ("Proxies", 1709), ("Sentinel", 1736), ("Acinar CS", 1766), ("Endocrine CS", 1801)]:
    text(s, 846, y, size=21)
text("Acinar", 847, 1856, size=20)
text("Alpha", 848, 1898, size=20)
text("Beta", 849, 1945, size=20)
text("HiC proxy<br>viewpoint", 762, 1897, size=20, anchor="center", angle=-90)
text("D", 745, 1243, size=32, anchor="center", bold=True)
gx, gy = axes((892, 1497, 1960, 2020), XD, [60, 0])
for (a, b, exons, thick), row in zip(wfs_transcripts, wfs_rows):
    glines(gx, gy, [a, b], [row, row], 3.5)
    glines(gx, gy, list(thick), [row, row], 8)
    for e0, e1 in exons:
        glines(gx, gy, [e0, e1], [row, row], 9)
    fig.add_trace(go.Scatter(x=[b], y=[row], mode="markers", xaxis=gx, yaxis=gy, showlegend=False,
                             marker=dict(symbol="triangle-right", size=9, color="black")))
text("WFS1", 1075, 1981, size=18)

layout.update(width=W, height=H, margin=dict(l=0, r=0, t=0, b=0, pad=0, autoexpand=False), paper_bgcolor="white", plot_bgcolor="rgba(0,0,0,0)",
              barmode="overlay", showlegend=False, annotations=annos, shapes=shapes, font=dict(family=FONT))
fig.update_layout(**layout)
fig.write_html("out.html", config={"displayModeBar": False}, post_script="document.body.style.margin='0';")
